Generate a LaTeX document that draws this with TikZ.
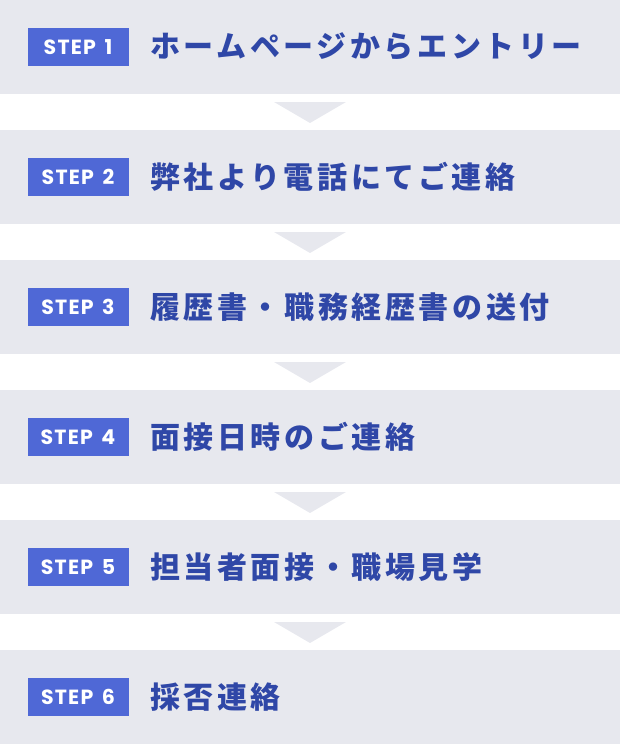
\documentclass[tikz,border=0pt]{standalone}
\usepackage{fontspec}
\newfontfamily\jpfont[LetterSpace=12]{Noto Sans CJK JP}
\newfontfamily\stepfont[LetterSpace=6]{Poppins}
\definecolor{bandgray}{HTML}{E7E8EE}
\definecolor{stepblue}{HTML}{4F68D6}
\definecolor{titleblue}{HTML}{2F47A7}

\begin{document}
\begin{tikzpicture}[
    x=1pt, y=-1pt,
    band/.style={fill=bandgray, minimum width=620pt, minimum height=94pt, inner sep=0pt, outer sep=0pt},
    badge/.style={fill=stepblue, text=white, minimum width=101pt, minimum height=38pt, inner sep=0pt,
                  font=\stepfont\bfseries\fontsize{20.5}{20.5}\selectfont},
    title/.style={anchor=west, text=titleblue, inner sep=0pt,
                  font=\jpfont\bfseries\fontsize{30}{30}\selectfont}
]

% --- Rahmen ---
\useasboundingbox (0,0) rectangle (620,744);

% --- Schritte ---
\foreach \i/\t in {1/ホームページからエントリー,
                   2/弊社より電話にてご連絡,
                   3/履歴書・職務経歴書の送付,
                   4/面接日時のご連絡,
                   5/担当者面接・職場見学,
                   6/採否連絡}{
    \node[band] (band\i) at (310, {130*(\i-1)+47}) {};
    \node[badge] (badge\i) at (78, {130*(\i-1)+47}) {STEP\hspace{3pt} \i};
    \node[title] (title\i) at (150, {130*(\i-1)+47}) {\t};
}

% --- Pfeile zwischen den Schritten ---
\foreach \i in {1,...,5}{
    \fill[bandgray] (274, {130*(\i-1)+102}) -- (346, {130*(\i-1)+102}) -- (310, {130*(\i-1)+123}) -- cycle;
}

\end{tikzpicture}
\end{document}
